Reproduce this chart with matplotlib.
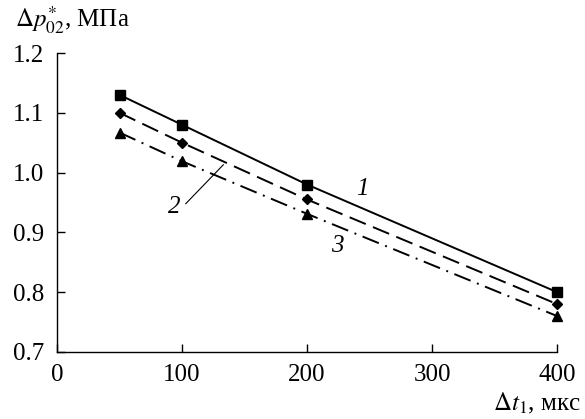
import matplotlib
matplotlib.use("Agg")
import matplotlib.pyplot as plt

plt.rcParams['font.family'] = ['Liberation Serif', 'DejaVu Serif']
plt.rcParams['mathtext.fontset'] = 'stix'

x = [50, 100, 200, 400]
series1 = [1.13, 1.08, 0.98, 0.80]
series2 = [1.10, 1.05, 0.955, 0.78]
series3 = [1.067, 1.019, 0.931, 0.760]
labels = ['1', '2', '3']
xticks = [0, 100, 200, 300, 400]
yticks = [0.7, 0.8, 0.9, 1.0, 1.1, 1.2]

fig = plt.figure(figsize=(5.85, 4.19), dpi=100)
ax = fig.add_axes([0.0974, 0.160, 0.855, 0.7135])

k = 'black'
ax.plot(x, series1, color=k, lw=1.4, marker='s', ms=7, linestyle='-', clip_on=False)
ax.plot(x, series2, color=k, lw=1.4, marker='D', ms=5, dashes=(9, 4), clip_on=False)
ax.plot(x, series3, color=k, lw=1.4, marker='^', ms=7.5, dashes=(9, 3.5, 1, 3.5), clip_on=False)

ax.set_xlim(0, 400)
ax.set_ylim(0.7, 1.2)
ax.set_xticks(xticks)
ax.set_yticks(yticks)
ax.set_xticklabels([str(v) for v in xticks])
ax.set_yticklabels([f'{v:.1f}' for v in yticks])
ax.tick_params(direction='in', length=6, width=1, labelsize=18)
ax.tick_params(axis='x', pad=9)
ax.tick_params(axis='y', pad=9)
for s in ['top', 'right']:
    ax.spines[s].set_visible(False)
for s in ['left', 'bottom']:
    ax.spines[s].set_linewidth(1)

ax.text(244, 0.972, labels[0], fontsize=18, style='italic', ha='center', va='center')
ax.text(94, 0.942, labels[1], fontsize=18, style='italic', ha='center', va='center')
ax.text(224, 0.877, labels[2], fontsize=18, style='italic', ha='center', va='center')
ax.plot([103, 133], [0.948, 1.013], color=k, lw=0.8)

fig.text(0.026, 0.952, r'$\Delta p^{*}_{02}$, МПа', fontsize=18, ha='left', va='center')
fig.text(0.992, 0.036, r'$\Delta t_1$, мкс', fontsize=18, ha='right', va='center')

fig.savefig('out.png', dpi=100)
